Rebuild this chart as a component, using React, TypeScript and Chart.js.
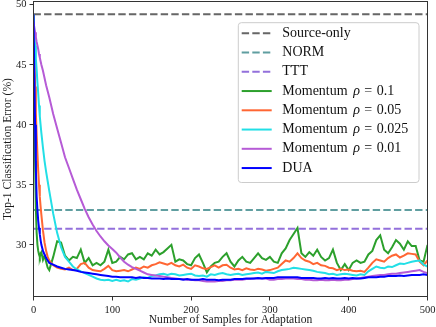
import React, { useEffect, useRef } from "react";
import { Chart, registerables } from "chart.js";

Chart.register(...registerables);

const X_SAMPLES = [
  0, 1, 2, 3, 4, 5, 6, 7, 8, 9, 10, 12, 14, 16, 18,
  20, 25, 30, 35, 40, 45, 50, 55, 60, 65, 70, 75, 80, 85, 90, 95,
  100, 105, 110, 115, 120, 125, 130, 135, 140, 145, 150, 155, 160, 165, 170, 175, 180, 185, 190, 195,
  200, 205, 210, 215, 220, 225, 230, 235, 240, 245, 250, 255, 260, 265, 270, 275, 280, 285, 290, 295,
  300, 305, 310, 315, 320, 325, 330, 335, 340, 345, 350, 355, 360, 365, 370, 375, 380, 385, 390, 395,
  400, 405, 410, 415, 420, 425, 430, 435, 440, 445, 450, 455, 460, 465, 470, 475, 480, 485, 490, 495, 500,
];

const SOURCE_ONLY = 49.2;
const NORM = 32.9;
const TTT = 31.35;

const MOMENTUM_01 = [
  49.2, 43.0, 37.0, 33.0, 31.0, 30.0, 29.5, 29.2, 29.0, 29.3, 29.4, 28.75, 29.1, 28.6, 28.1,
  27.9, 29.0, 30.3, 30.2, 29.1, 28.7, 29.0, 28.9, 29.6, 28.5, 28.9, 28.3, 28.5, 28.3, 28.6, 29.6,
  28.5, 28.6, 29.0, 28.8, 29.2, 29.3, 28.8, 29.0, 28.8, 29.3, 29.1, 29.6, 29.2, 29.4, 29.7, 30.0, 28.6, 28.8, 28.7, 28.4,
  28.3, 28.9, 29.2, 28.5, 27.7, 28.2, 28.5, 28.6, 29.0, 29.3, 28.6, 28.2, 28.7, 29.0, 28.6, 28.5, 28.9, 29.3, 28.9, 28.75,
  29.0, 28.6, 28.5, 29.3, 29.7, 30.4, 30.9, 31.4, 29.3, 29.0, 29.4, 29.1, 29.6, 29.0, 28.7, 28.9, 29.6, 28.5, 27.9, 28.4,
  27.9, 28.5, 28.7, 28.5, 28.6, 29.2, 29.5, 30.4, 30.8, 29.6, 29.3, 29.8, 30.4, 30.1, 29.6, 30.3, 29.9, 29.9, 28.7, 28.6, 30.0,
];

const MOMENTUM_005 = [
  49.2, 46.0, 43.2, 41.0, 39.2, 37.6, 36.2, 35.0, 34.0, 33.2, 32.5, 31.2, 30.2, 29.5, 29.0,
  28.7, 28.3, 28.1, 28.0, 27.95, 28.1, 27.9, 28.0, 28.4, 28.5, 28.1, 27.9, 27.85, 27.8, 28.0, 28.25,
  27.9, 27.8, 27.85, 27.9, 27.8, 27.95, 28.1, 28.0, 28.2, 28.1, 28.3, 28.4, 28.55, 28.45, 28.35, 28.5, 28.3, 28.2, 28.35, 28.1,
  28.0, 28.3, 28.2, 28.05, 28.0, 28.15, 28.3, 28.1, 28.3, 28.35, 28.1, 27.95, 28.0, 27.9, 28.05, 27.95, 27.9, 28.0, 27.95, 27.85,
  27.9, 28.0, 28.1, 28.4, 28.7, 28.6, 28.9, 29.3, 28.9, 28.7, 28.6, 28.4, 28.5, 28.3, 28.25, 28.1, 28.05, 27.9, 28.0, 27.9,
  27.95, 27.85, 27.8, 27.85, 27.75, 28.1, 28.5, 28.8, 28.7, 28.6, 28.9, 29.1, 29.2, 28.95, 29.1, 29.3, 29.25, 29.2, 28.6, 28.3, 28.7,
];

const MOMENTUM_0025 = [
  49.2, 47.8, 46.6, 45.5, 44.6, 43.5, 42.6, 41.6, 40.7, 40.0, 39.3, 38.1, 37.0, 36.1, 35.3,
  34.5, 32.6, 31.0, 29.8, 29.0, 28.6, 28.2, 27.95, 27.8, 27.65, 27.5, 27.35, 27.2, 27.1, 27.05, 27.1,
  27.0, 27.1, 27.0, 27.05, 26.95, 27.15, 27.1, 27.2, 27.3, 27.25, 27.4, 27.45, 27.55, 27.6, 27.5, 27.6, 27.55, 27.45, 27.5, 27.55,
  27.6, 27.45, 27.4, 27.45, 27.35, 27.55, 27.5, 27.6, 27.65, 27.55, 27.5, 27.55, 27.6, 27.5, 27.55, 27.6, 27.65, 27.7, 27.6, 27.75,
  27.7, 27.65, 27.8, 27.9, 27.95, 28.0, 28.1, 28.05, 28.0, 27.95, 27.9, 27.85, 27.75, 27.7, 27.65, 27.55, 27.6, 27.5, 27.55, 27.6,
  27.55, 27.5, 27.45, 27.55, 27.5, 27.8, 28.0, 28.2, 28.1, 28.05, 28.2, 28.15, 28.3, 28.45, 28.4, 28.5, 28.6, 28.65, 28.7, 28.35, 28.2,
];

const MOMENTUM_001 = [
  48.6, 48.1, 47.7, 47.3, 46.9, 46.6, 46.3, 45.9, 45.6, 45.3, 45.0, 44.5, 43.9, 43.3, 42.8,
  42.3, 40.9, 39.7, 38.5, 37.3, 36.4, 35.5, 34.6, 33.8, 33.0, 32.3, 31.7, 31.15, 30.7, 30.3, 29.95,
  29.65, 29.35, 28.95, 28.6, 28.35, 28.15, 28.0, 27.85, 27.7, 27.55, 27.5, 27.45, 27.4, 27.35, 27.3, 27.25, 27.2, 27.15, 27.15, 27.1,
  27.1, 27.05, 27.05, 27.0, 26.95, 26.95, 26.95, 27.0, 27.0, 27.05, 27.05, 27.1, 27.1, 27.1, 27.15, 27.15, 27.2, 27.2, 27.2, 27.2,
  27.1, 27.1, 27.15, 27.15, 27.2, 27.2, 27.2, 27.15, 27.15, 27.1, 27.1, 27.05, 27.05, 27.1, 27.05, 27.05, 27.1, 27.05, 27.05, 27.1,
  27.1, 27.15, 27.2, 27.25, 27.3, 27.35, 27.4, 27.45, 27.5, 27.5, 27.55, 27.6, 27.6, 27.65, 27.7, 27.75, 27.8, 27.85, 27.9, 27.75, 27.65,
];

const DUA = [
  49.2, 44.5, 40.0, 36.3, 34.0, 32.9, 32.0, 31.4, 30.9, 30.4, 30.0, 29.5, 29.2, 28.9, 28.7,
  28.5, 28.35, 28.2, 28.1, 28.0, 27.95, 27.9, 27.85, 27.75, 27.7, 27.65, 27.6, 27.55, 27.5, 27.45, 27.4,
  27.35, 27.35, 27.3, 27.3, 27.3, 27.3, 27.25, 27.3, 27.25, 27.25, 27.2, 27.2, 27.2, 27.15, 27.2, 27.15, 27.15, 27.15, 27.1, 27.15,
  27.1, 27.1, 27.1, 27.15, 27.1, 27.1, 27.1, 27.05, 27.1, 27.1, 27.1, 27.15, 27.15, 27.15, 27.2, 27.2, 27.2, 27.25, 27.2, 27.25,
  27.25, 27.25, 27.3, 27.3, 27.3, 27.3, 27.3, 27.3, 27.25, 27.25, 27.25, 27.25, 27.2, 27.2, 27.25, 27.2, 27.25, 27.2, 27.2, 27.25,
  27.2, 27.25, 27.2, 27.2, 27.25, 27.3, 27.3, 27.3, 27.35, 27.35, 27.4, 27.4, 27.4, 27.45, 27.4, 27.45, 27.5, 27.5, 27.5, 27.55, 27.5,
];

const X_TICKS = [0, 100, 200, 300, 400, 500];
const Y_TICKS = [30, 35, 40, 45, 50];
const X_RANGE = [0, 500];
const Y_RANGE = [25.7, 50.27];

const LABELS = [
  "Source-only",
  "NORM",
  "TTT",
  "Momentum ρ = 0.1",
  "Momentum ρ = 0.05",
  "Momentum ρ = 0.025",
  "Momentum ρ = 0.01",
  "DUA",
];
const COLORS = ["#666666", "#5f9ea0", "#9370db", "#2ca02c", "#ff6633", "#22dfe6", "#b65bd6", "#0000ff"];
const DASH = [7.4, 3.2];
const SERIF = "'Liberation Serif', 'Times New Roman', serif";

const toPoints = (ys: number[]) => X_SAMPLES.map((x, i) => ({ x, y: ys[i] }));
const flat = (v: number) => [
  { x: X_RANGE[0], y: v },
  { x: X_RANGE[1], y: v },
];

const framePlugin = {
  id: "frame",
  afterDatasetsDraw(chart: any) {
    const { ctx, chartArea: a } = chart;
    ctx.save();
    ctx.strokeStyle = "#333333";
    ctx.lineWidth = 1;
    ctx.strokeRect(a.left, a.top, a.right - a.left, a.bottom - a.top);
    ctx.restore();
  },
};

const legendPlugin = {
  id: "texLegend",
  afterDraw(chart: any) {
    const { ctx, chartArea: a } = chart;
    const bx = a.left + 204.8;
    const by = a.top + 21.2;
    const bw = 180.7;
    const bh = 159.8;
    ctx.save();
    ctx.globalAlpha = 0.8;
    ctx.fillStyle = "#ffffff";
    ctx.beginPath();
    (ctx as any).roundRect(bx, by, bw, bh, 3);
    ctx.fill();
    ctx.globalAlpha = 1;
    ctx.strokeStyle = "#cccccc";
    ctx.lineWidth = 1;
    ctx.stroke();

    const fs = 14;
    const regular = `${fs}px ${SERIF}`;
    const italic = `italic ${fs}px ${SERIF}`;
    chart.data.datasets.forEach((ds: any, i: number) => {
      const y = by + 10.6 + i * 19.25;
      ctx.strokeStyle = ds.borderColor;
      ctx.lineWidth = 2;
      ctx.setLineDash(ds.borderDash || []);
      ctx.beginPath();
      ctx.moveTo(bx + 3.4, y);
      ctx.lineTo(bx + 33.4, y);
      ctx.stroke();
      ctx.setLineDash([]);

      ctx.fillStyle = "#111111";
      ctx.textBaseline = "middle";
      ctx.textAlign = "left";
      let tx = bx + 44;
      const label: string = LABELS[i];
      if (label.includes("ρ")) {
        const [pre, post] = label.split("ρ");
        const rest = post.replace("=", "").trim();
        ctx.font = regular;
        ctx.fillText(pre.trim(), tx, y);
        tx += ctx.measureText(pre.trim()).width + 5.5;
        ctx.font = italic;
        ctx.fillText("ρ", tx, y);
        tx += ctx.measureText("ρ").width + 4.5;
        ctx.font = regular;
        ctx.fillText("=", tx, y);
        tx += ctx.measureText("=").width + 4.5;
        ctx.fillText(rest, tx, y);
      } else {
        ctx.font = regular;
        ctx.fillText(label, tx, y);
      }
    });
    ctx.restore();
  },
};

export default function App() {
  const ref = useRef<HTMLCanvasElement | null>(null);

  useEffect(() => {
    if (!ref.current) return;
    Chart.defaults.font.family = SERIF;
    const series = [
      { data: flat(SOURCE_ONLY), dash: DASH },
      { data: flat(NORM), dash: DASH },
      { data: flat(TTT), dash: DASH },
      { data: toPoints(MOMENTUM_01), dash: [] },
      { data: toPoints(MOMENTUM_005), dash: [] },
      { data: toPoints(MOMENTUM_0025), dash: [] },
      { data: toPoints(MOMENTUM_001), dash: [] },
      { data: toPoints(DUA), dash: [] },
    ];
    const datasets = series.map((s, i) => ({
      label: LABELS[i],
      data: s.data,
      borderColor: COLORS[i],
      backgroundColor: COLORS[i],
      borderDash: s.dash,
      borderWidth: 2,
      pointRadius: 0,
      tension: 0,
      fill: false,
      order: series.length - 1 - i,
    }));

    const chart = new Chart(ref.current, {
      type: "line",
      data: { datasets },
      options: {
        animation: false,
        responsive: false,
        layout: { padding: { left: 0, top: 1.5, right: 8.5, bottom: 0 } },
        plugins: { legend: { display: false }, tooltip: { enabled: false } },
        scales: {
          x: {
            type: "linear",
            min: X_RANGE[0],
            max: X_RANGE[1],
            afterBuildTicks: (s: any) => {
              s.ticks = X_TICKS.map((v) => ({ value: v }));
            },
            afterFit: (s: any) => {
              s.height = 30.5;
              s.paddingLeft = 0;
              s.paddingRight = 0;
            },
            grid: { display: true, drawOnChartArea: false, drawTicks: true, tickLength: 4, color: "#333333" },
            border: { display: false },
            ticks: { padding: 3, color: "#1a1a1a", font: { size: 10.5 }, maxRotation: 0, autoSkip: false },
            title: {
              display: true,
              text: "Number of Samples for Adaptation",
              color: "#1a1a1a",
              font: { size: 11.6 },
              padding: { top: 0, bottom: 0 },
            },
          },
          y: {
            type: "linear",
            min: Y_RANGE[0],
            max: Y_RANGE[1],
            afterBuildTicks: (s: any) => {
              s.ticks = Y_TICKS.map((v) => ({ value: v }));
            },
            afterFit: (s: any) => {
              s.width = 33.5;
              s.paddingTop = 0;
              s.paddingBottom = 0;
            },
            grid: { display: true, drawOnChartArea: false, drawTicks: true, tickLength: 4, color: "#333333" },
            border: { display: false },
            ticks: { padding: 3, color: "#1a1a1a", font: { size: 10.5 }, autoSkip: false },
            title: {
              display: true,
              text: "Top-1 Classification Error (%)",
              color: "#1a1a1a",
              font: { size: 11.6 },
              padding: { top: 1, bottom: 0 },
            },
          },
        },
      },
      plugins: [framePlugin, legendPlugin],
    });
    return () => chart.destroy();
  }, []);

  return (
    <div style={{ position: "absolute", left: 0, top: 0, width: 436, height: 327 }}>
      <canvas ref={ref} width={436} height={327} />
    </div>
  );
}
